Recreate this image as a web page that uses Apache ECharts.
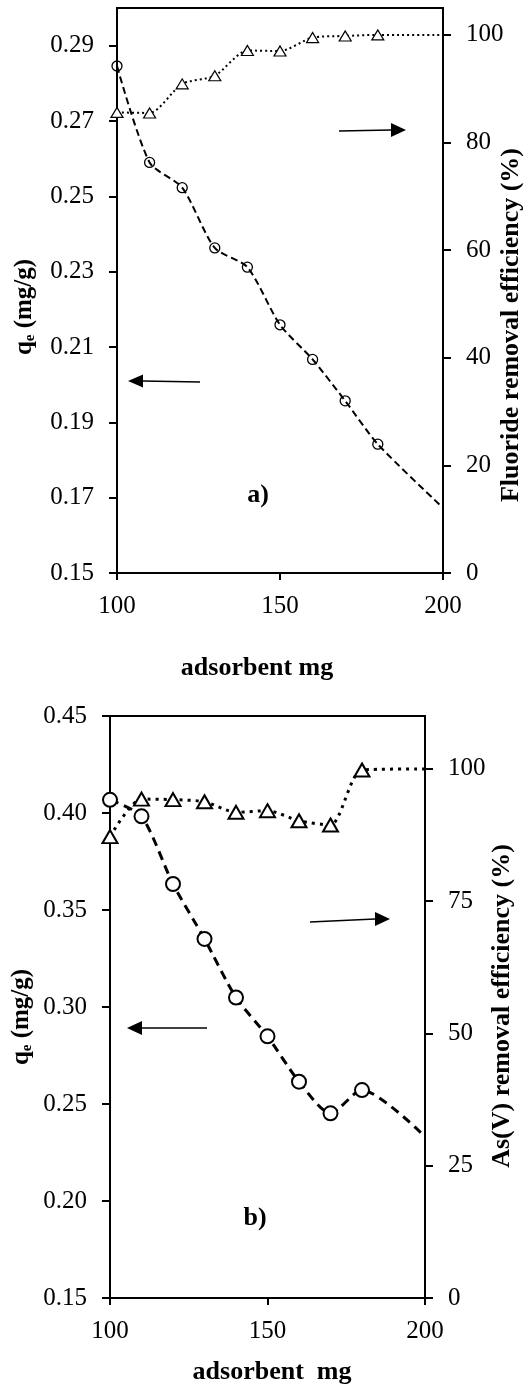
<!DOCTYPE html>
<html><head><meta charset="utf-8">
<script src="https://cdn.jsdelivr.net/npm/echarts@6/dist/echarts.min.js"></script>
<style>html,body{margin:0;padding:0;background:#fff}#c{width:528px;height:1384px}</style>
</head><body><div id="c"></div>
<script>
// Data (x = adsorbent dose, mg)
const dose = [100, 110, 120, 130, 140, 150, 160, 170, 180, 200];
// a) Fluoride
const qeFluoride = [0.2846, 0.2590, 0.2523, 0.2363, 0.2312, 0.2159, 0.2067, 0.1957, 0.1842, 0.1673];
const effFluoride = [85.6, 85.5, 90.9, 92.4, 97.1, 97.0, 99.5, 99.8, 100.0, 100.0];
// b) As(V)
const qeArsenic = [0.4068, 0.3983, 0.3634, 0.3351, 0.3049, 0.2849, 0.2615, 0.2452, 0.2572, 0.2332];
const effArsenic = [87.2, 94.3, 94.2, 93.8, 91.8, 92.1, 90.2, 89.4, 99.8, 100.0];
// doses measured without a plotted marker (line end only)
const noMarkerDose = [200];
// tick labels
const xTicks = [100, 150, 200];
const qeTicksA = [0.15, 0.17, 0.19, 0.21, 0.23, 0.25, 0.27, 0.29];
const effTicksA = [0, 20, 40, 60, 80, 100];
const qeTicksB = [0.15, 0.20, 0.25, 0.30, 0.35, 0.40, 0.45];
const effTicksB = [0, 25, 50, 75, 100];

const FONT = '"Liberation Serif", "Times New Roman", serif';
const chart = echarts.init(document.getElementById('c'), null, {renderer: 'canvas'});

function pts(ys) {
  return dose.map((x, i) => noMarkerDose.includes(x)
    ? {value: [x, ys[i]], symbol: 'none'}
    : {value: [x, ys[i]]});
}
function xAxisCfg(g) {
  return {type: 'value', gridIndex: g, min: 100, max: 200,
    axisLine: {show: true, onZero: false, lineStyle: {color: '#000', width: 2}},
    axisTick: {show: true, length: 7, customValues: xTicks, lineStyle: {color: '#000', width: 2}},
    axisLabel: {customValues: xTicks, margin: 21, color: '#000', fontFamily: FONT, fontSize: 25},
    splitLine: {show: false}};
}
function yAxisCfg(g, pos, min, max, ticks, fmt) {
  return {type: 'value', gridIndex: g, position: pos, min: min, max: max,
    axisLine: {show: true, onZero: false, lineStyle: {color: '#000', width: 2}},
    axisTick: {show: true, length: 8, customValues: ticks, lineStyle: {color: '#000', width: 2}},
    axisLabel: {customValues: ticks, margin: 23, color: '#000', fontFamily: FONT, fontSize: 25,
      formatter: fmt},
    splitLine: {show: false}};
}
const f2 = v => v.toFixed(2);
const f0 = v => String(Math.round(v));

function arrow(x1, y1, tipX, tipY, baseX, half) {
  return [
    {type: 'line', shape: {x1: x1, y1: y1, x2: baseX, y2: tipY}, style: {stroke: '#000', lineWidth: 1.6}},
    {type: 'polygon', shape: {points: [[tipX, tipY], [baseX, tipY - half], [baseX, tipY + half]]}, style: {fill: '#000'}}
  ];
}
function vtitle(x, y, rich, text, size) {
  return {type: 'text', x: x, y: y, rotation: Math.PI / 2,
    style: {text: text, rich: rich, fontFamily: FONT, fontWeight: 'bold', fontSize: size, fill: '#000',
      align: 'center', verticalAlign: 'middle'}};
}
const qRich = {
  q: {fontFamily: FONT, fontWeight: 'bold', fontSize: 25, color: '#000'},
  s: {fontFamily: FONT, fontWeight: 'bold', fontSize: 15, color: '#000', verticalAlign: 'bottom', lineHeight: 20}
};

const option = {
  animation: false,
  backgroundColor: '#fff',
  grid: [
    {left: 117, top: 8, width: 326, height: 565, show: true, borderColor: '#000', borderWidth: 2, containLabel: false},
    {left: 110, top: 716, width: 315, height: 582, show: true, borderColor: '#000', borderWidth: 2, containLabel: false}
  ],
  xAxis: [xAxisCfg(0), xAxisCfg(1)],
  yAxis: [
    yAxisCfg(0, 'left', 0.15, 0.30, qeTicksA, f2),
    yAxisCfg(0, 'right', 0, 105, effTicksA, f0),
    yAxisCfg(1, 'left', 0.15, 0.45, qeTicksB, f2),
    yAxisCfg(1, 'right', 0, 110, effTicksB, f0)
  ],
  series: [
    {type: 'line', xAxisIndex: 0, yAxisIndex: 1, data: pts(effFluoride), smooth: 0.25,
      symbol: 'triangle', symbolSize: [12, 10],
      itemStyle: {color: '#fff', borderColor: '#000', borderWidth: 1.2},
      lineStyle: {color: '#000', width: 2, type: [2, 3]}},
    {type: 'line', xAxisIndex: 0, yAxisIndex: 0, data: pts(qeFluoride), smooth: 0.25,
      symbol: 'circle', symbolSize: 10,
      itemStyle: {color: 'rgba(255,255,255,0)', borderColor: '#000', borderWidth: 1.3},
      lineStyle: {color: '#000', width: 2, type: [7, 4]}},
    {type: 'line', xAxisIndex: 1, yAxisIndex: 3, data: pts(effArsenic), smooth: 0.25,
      symbol: 'triangle', symbolSize: [15, 13],
      itemStyle: {color: '#fff', borderColor: '#000', borderWidth: 2},
      lineStyle: {color: '#000', width: 3, type: [3, 5]}},
    {type: 'line', xAxisIndex: 1, yAxisIndex: 2, data: pts(qeArsenic), smooth: 0.25,
      symbol: 'circle', symbolSize: 14,
      itemStyle: {color: '#fff', borderColor: '#000', borderWidth: 2},
      lineStyle: {color: '#000', width: 3, type: [9, 6]}}
  ],
  graphic: [
    ...arrow(339, 131, 406, 130, 391, 7),
    ...arrow(200, 382, 128, 381, 143, 6.5),
    ...arrow(310, 922, 390, 919, 375, 7),
    ...arrow(207, 1028, 127, 1028, 142, 7),
    {type: 'text', x: 258, y: 495, style: {text: 'a)', fontFamily: FONT, fontWeight: 'bold', fontSize: 26, fill: '#000', align: 'center', verticalAlign: 'middle'}},
    {type: 'text', x: 255, y: 1218, style: {text: 'b)', fontFamily: FONT, fontWeight: 'bold', fontSize: 26, fill: '#000', align: 'center', verticalAlign: 'middle'}},
    {type: 'text', x: 257, y: 668, style: {text: 'adsorbent mg', fontFamily: FONT, fontWeight: 'bold', fontSize: 26, fill: '#000', align: 'center', verticalAlign: 'middle'}},
    {type: 'text', x: 272, y: 1372, style: {text: 'adsorbent  mg', fontFamily: FONT, fontWeight: 'bold', fontSize: 26, fill: '#000', align: 'center', verticalAlign: 'middle'}},
    vtitle(25, 307, qRich, '{q|q}{s|e}{q| (mg/g)}', 25),
    vtitle(22, 1017, qRich, '{q|q}{s|e}{q| (mg/g)}', 25),
    vtitle(511, 325, null, 'Fluoride removal efficiency (%)', 26),
    vtitle(502, 1006, null, 'As(V) removal efficiency (%)', 26)
  ]
};
chart.setOption(option);
</script>
</body></html>
